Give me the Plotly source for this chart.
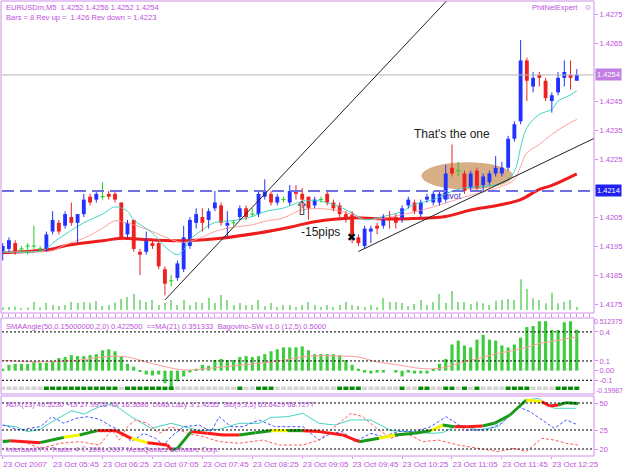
import plotly.graph_objects as go

W, H = 625, 469
VIO = "#c050dc"
VIOL = "#cf8fe6"
FONT = "Liberation Sans, Arial, sans-serif"

# ---------------- data ----------------
time_ticks = [0, 8, 16, 24, 32, 40, 48, 56, 64, 72, 80, 88]
time_labels = ["23 Oct 2007", "23 Oct 05:45", "23 Oct 06:25", "23 Oct 07:05", "23 Oct 07:45",
               "23 Oct 08:25", "23 Oct 09:05", "23 Oct 09:45", "23 Oct 10:25", "23 Oct 11:05",
               "23 Oct 11:45", "23 Oct 12:25"]

opens = [1.4193,1.4194,1.4196,1.4194,1.4195,1.4195,1.4194,1.4194,1.4200,1.4203,
         1.4202,1.4205,1.4203,1.4206,1.4212,1.4211,1.4212,1.4213,1.4213,1.4210,
         1.4199,1.4204,1.4193,1.4193,1.4196,1.4196,1.4187,1.4183,1.4184,1.4187,
         1.4195,1.4203,1.4205,1.4204,1.4208,1.4209,1.4202,1.4203,1.4205,1.4208,
         1.4206,1.4206,1.4212,1.4213,1.4210,1.4211,1.4210,1.4214,1.4213,1.4212,
         1.4209,1.4211,1.4213,1.4210,1.4209,1.4206,1.4206,1.4198,1.4195,1.4200,
         1.4202,1.4202,1.4205,1.4205,1.4204,1.4209,1.4210,1.4206,1.4211,1.4210,
         1.4210,1.4211,1.4222,1.4221,1.4220,1.4215,1.4221,1.4216,1.4217,1.4220,
         1.4220,1.4222,1.4232,1.4238,1.4259,1.4250,1.4254,1.4252,1.4245,1.4248,
         1.4253,1.4254,1.4252]
highs = [1.4196,1.4198,1.4197,1.4195,1.4196,1.4202,1.4195,1.4200,1.4207,1.4204,
         1.4207,1.4210,1.4206,1.4213,1.4213,1.4214,1.4217,1.4214,1.4214,1.4210,
         1.4204,1.4204,1.4194,1.4200,1.4197,1.4197,1.4188,1.4185,1.4190,1.4202,
         1.4205,1.4208,1.4208,1.4208,1.4214,1.4210,1.4207,1.4204,1.4209,1.4209,
         1.4208,1.4214,1.4218,1.4214,1.4213,1.4212,1.4216,1.4216,1.4215,1.4212,
         1.4212,1.4212,1.4214,1.4211,1.4210,1.4207,1.4207,1.4199,1.4202,1.4202,
         1.4203,1.4206,1.4207,1.4206,1.4209,1.4212,1.4211,1.4211,1.4213,1.4214,
         1.4214,1.4223,1.4230,1.4224,1.4221,1.4221,1.4222,1.4220,1.4221,1.4226,
         1.4224,1.4233,1.4238,1.4266,1.4260,1.4255,1.4255,1.4253,1.4248,1.4255,
         1.4259,1.4259,1.4256]
lows = [1.4190,1.4193,1.4192,1.4193,1.4192,1.4194,1.4193,1.4193,1.4199,1.4199,
        1.4201,1.4202,1.4196,1.4205,1.4209,1.4210,1.4211,1.4211,1.4210,1.4197,
        1.4198,1.4193,1.4185,1.4192,1.4194,1.4187,1.4178,1.4181,1.4183,1.4186,
        1.4194,1.4201,1.4200,1.4201,1.4207,1.4202,1.4198,1.4202,1.4204,1.4204,
        1.4205,1.4205,1.4211,1.4209,1.4209,1.4210,1.4209,1.4211,1.4208,1.4204,
        1.4208,1.4210,1.4209,1.4207,1.4205,1.4203,1.4196,1.4195,1.4194,1.4196,
        1.4199,1.4201,1.4201,1.4201,1.4203,1.4208,1.4206,1.4205,1.4210,1.4209,
        1.4209,1.4210,1.4219,1.4219,1.4213,1.4214,1.4214,1.4214,1.4216,1.4219,
        1.4219,1.4221,1.4231,1.4237,1.4245,1.4248,1.4250,1.4245,1.4241,1.4247,
        1.4250,1.4249,1.4252]
closes = [1.4195,1.4197,1.4193,1.4194,1.4195,1.4195,1.4194,1.4199,1.4204,1.4200,
          1.4206,1.4203,1.4206,1.4211,1.4210,1.4213,1.4212,1.4212,1.4211,1.4198,
          1.4203,1.4194,1.4192,1.4197,1.4195,1.4188,1.4182,1.4183,1.4189,1.4198,
          1.4204,1.4206,1.4203,1.4207,1.4210,1.4203,1.4203,1.4203,1.4208,1.4205,
          1.4206,1.4213,1.4214,1.4210,1.4212,1.4211,1.4214,1.4213,1.4211,1.4208,
          1.4211,1.4211,1.4210,1.4208,1.4206,1.4204,1.4199,1.4196,1.4201,1.4201,
          1.4201,1.4205,1.4204,1.4203,1.4208,1.4211,1.4207,1.4210,1.4212,1.4213,
          1.4213,1.4220,1.4220,1.4221,1.4214,1.4220,1.4215,1.4219,1.4220,1.4222,
          1.4222,1.4232,1.4237,1.4259,1.4252,1.4253,1.4253,1.4246,1.4247,1.4253,
          1.4255,1.4253,1.4254]
volume = [10,12,14,8,10,32,10,28,20,16,20,32,28,32,28,36,16,20,30,44,
          52,64,40,32,40,20,28,40,20,40,20,32,28,48,28,60,40,20,28,20,
          20,40,16,28,12,20,20,12,20,32,20,12,20,12,20,32,20,16,12,20,
          12,48,32,32,28,16,24,40,20,32,64,28,76,32,32,24,33,27,20,37,
          40,44,40,123,84,47,40,27,69,27,33,40,12]

ma_fast_x = [0,5,7,8,10,13,16,18,20,21,24,26,28,29,30,32,34,37,40,42,45,48,50,53,56,58,61,64,66,69,72,74,77,80,82,83,84,86,88,89,91,92]
ma_fast_y = [1.4193,1.4193,1.4194,1.4196,1.4199,1.4203,1.4206,1.42085,1.4207,1.4204,1.41995,1.41948,1.4192,1.41937,1.41971,
             1.42006,1.42031,1.42038,1.42052,1.42069,1.42081,1.42104,1.42107,1.42093,1.42064,1.42041,1.42052,1.42069,1.42093,
             1.4211,1.42139,1.4215,1.42156,1.42168,1.42207,1.4229,1.42358,1.42404,1.42421,1.4245,1.42471,1.42485]
ma_mid_x = [0,5,8,10,13,16,18,20,21,24,26,29,32,34,37,40,42,45,48,53,56,58,64,69,74,80,82,83,84,86,88,90,92]
ma_mid_y = [1.4193,1.4193,1.41934,1.41954,1.41977,1.42011,1.42037,1.42029,1.42023,1.42,1.41981,1.41962,1.41981,1.42,
            1.42015,1.42023,1.42035,1.42047,1.42075,1.42075,1.42058,1.42041,1.42058,1.42085,1.42119,1.42156,1.42179,
            1.42225,1.42271,1.423,1.42335,1.42363,1.42387]
ma_slow_x = [0,5,8,10,16,19,22,26,30,35,41,46,50,56,60,65,71,75,80,83,86,88,92]
ma_slow_y = [1.41927,1.41933,1.4194,1.41951,1.41968,1.41977,1.41973,1.41969,1.41969,1.41977,1.41995,1.42015,1.42034,
             1.42047,1.42044,1.42044,1.42052,1.42074,1.42093,1.4211,1.42145,1.42159,1.42199]

pivot_level = 1.4214
bid_level = 1.4254
price_ticks = [1.4175, 1.4185, 1.4195, 1.4205, 1.4215, 1.4225, 1.4235, 1.4245, 1.4255, 1.4265, 1.4275]
price_tick_text = ["1.4175", "1.4185", "1.4195", "1.4205", "", "1.4225", "1.4235", "1.4245", "", "1.4265", "1.4275"]

trend1 = [(26, 1.41764), (72, 1.42815)]
trend2 = [(57, 1.41931), (96, 1.42334)]
ellipse = [(67.1, 1.42145), (81.8, 1.42239)]

sma_angle = [0.02,0.06,0.07,0.07,0.07,0.09,0.08,0.08,0.10,0.13,
             0.14,0.16,0.15,0.15,0.16,0.17,0.21,0.22,0.20,0.15,
             0.07,0.04,-0.01,-0.04,-0.05,-0.04,-0.13,-0.20,-0.11,-0.06,
             -0.02,0.02,0.06,0.05,0.11,0.12,0.11,0.11,0.14,0.15,
             0.14,0.15,0.17,0.20,0.22,0.24,0.24,0.24,0.25,0.21,
             0.17,0.17,0.17,0.17,0.16,0.11,0.06,0.02,-0.02,-0.03,
             -0.02,-0.02,0.00,-0.02,-0.06,-0.02,-0.03,-0.03,-0.03,0.02,
             0.07,0.12,0.27,0.31,0.26,0.24,0.32,0.37,0.32,0.31,
             0.26,0.24,0.27,0.34,0.45,0.46,0.51,0.51,0.42,0.42,
             0.50,0.51,0.4225]
sma_ma_x = [0,6,12,17,20,24,29,33,38,44,49,54,57,60,63,67,70,73,76,79,83,86,89,92]
sma_ma_y = [0.107,0.09,0.107,0.147,0.14,0.073,0.007,0.023,0.057,0.097,0.15,0.15,0.14,0.09,0.063,0.023,0.023,
            0.073,0.123,0.173,0.223,0.28,0.313,0.351]
sma_levels = [0.4, 0.1, -0.1]
sma_max, sma_min = 0.512375, -0.19987
sma_ticks = [0.4, 0.1, 0.0, -0.1]
sma_tick_text = ["0.4", "0.1", "0.00", "-0.1"]
bagovino = [0]*7 + [1]*12 + [0] + [1]*8 + [0]*10 + [1] + [0]*2 + [1]*3 + [0]*10 + [1]*4 + [0]*6 + [1] + [0]*2 + \
           [1]*2 + [0]*2 + [1]*2 + [0] + [1] + [0] + [1] + [0]*4 + [1]*4 + [0]*4 + [1]*4

adx_x = [0,1.2,6,7.9,9.8,12.3,15.2,18.1,20.6,23.2,26.4,27,28,30.2,32.8,35.3,37.9,40.5,43,45.6,48.1,50.7,54.5,57.1,
         60.3,62.8,66,68.6,70.5,72.4,74.3,76.9,78.8,81.3,83.9,86.4,87.7,89,90.3,92.2]
adx_y = [14.2,15.1,13.3,15.7,18.2,20.4,24.4,24.4,17.3,13.3,11.1,6.5,8.0,23.5,21.9,20.4,20.4,22.5,24.4,24.4,24.4,23.5,
         20.4,14.2,17.3,20.4,21.9,24.4,29.6,28.1,28.1,28.7,31.2,38.9,52.8,51.2,47.2,48.2,50.3,49.5]
adx_col = "grggygrryrrggrrrggygrrrgyggygrrgggyrrgg"
sto_x = [0,2.1,4,6,7.9,11.1,13,15.5,17.5,18.7,20.6,23.8,27,30.2,31.5,34.7,37.9,41.1,43,45.6,48.1,50.7,53.2,55.8,59,
         62.2,65.4,68.6,70.5,73,76.2,79.4,82,83.9,85.8,87.1,88.4,90.3,91.9]
sto_y = [29.6,28.1,23.4,25.6,32.7,42.9,39.8,46.6,49.1,45.1,37.3,26.5,31.2,26.5,24.4,25.6,31.2,31.2,36.7,37.3,40.4,31.2,
         29.6,34.3,34.3,24.4,23.5,21.9,22.5,29.6,25.0,28.1,43.5,52.8,54.3,49.7,45.1,45.1,45.1]
pdi_x = [0,2.8,6,7.9,9.8,11.7,13.6,15.5,17.5,18.7,20.6,22.6,24.5,25.8,27,29,31.5,33.4,34.7,36.6,38.5,41.1,43.6,45.6,
         48.1,50.7,52.6,54.5,56.4,59,60.9,63.4,66,68.6,71.1,74.3,77.5,80,82.6,84.5,86.4,88.4,90.3,92.2]
pdi_y = [29.6,25.0,28.1,37.3,31.2,35.8,37.3,34.9,28.1,25.0,14.2,21.9,17.3,11.1,18.8,28.1,29.6,23.5,37.3,28.1,28.1,34.3,
         28.1,28.1,28.1,15.7,21.9,23.5,14.2,21.9,18.8,23.5,23.5,28.1,37.3,25.0,25.0,31.2,46.6,42.0,34.3,26.5,34.3,29.6]
mdi_x = [0,3.4,6,9.2,12.3,15.5,17.5,18.7,20,21.3,23.2,25.1,27,29.6,32.2,34.7,37.9,41.7,44.3,48.1,50.7,53.2,55.8,57.7,
         59.6,62.2,64.7,67.3,69.8,73,76.2,79.4,82,83.9,86.4,88.4,90.3,92.2]
mdi_y = [15.7,14.2,8.0,12.7,14.2,11.1,25.0,15.7,28.1,34.3,31.2,21.9,28.1,21.9,18.8,14.2,12.7,15.7,11.1,11.1,15.7,28.1,
         40.4,37.3,28.1,17.3,21.9,14.2,15.7,11.1,8.0,5.0,8.0,5.0,17.3,15.7,12.7,11.1]
adx_levels = [50, 25, 7.4]
adx_ticks = [50, 25, 7.4]
adx_tick_text = ["50", "25", "20"]

# ---------------- geometry helpers (page px -> paper) ----------------
def fy(px):
    return 1 - px / H

XD = [2 / W, 594 / W]
XR = [-0.112, 94.76]

fig = go.Figure()

# volume (behind)
fig.add_trace(go.Bar(x=list(range(len(volume))), y=volume, width=0.18, marker_color="#8fdc8f",
                     marker_line_width=0, xaxis="x", yaxis="y2", hoverinfo="skip"))

# moving averages
fig.add_trace(go.Scatter(x=ma_slow_x, y=ma_slow_y, mode="lines", line=dict(color="#ee1c1c", width=3, shape="spline"),
                         xaxis="x", yaxis="y"))
fig.add_trace(go.Scatter(x=ma_mid_x, y=ma_mid_y, mode="lines", line=dict(color="#ffa0a0", width=1, shape="spline"),
                         xaxis="x", yaxis="y"))
fig.add_trace(go.Scatter(x=ma_fast_x, y=ma_fast_y, mode="lines", line=dict(color="#3fd6c6", width=1, shape="spline"),
                         xaxis="x", yaxis="y"))

# candles
n = len(opens)
groups = {"up": ("#2233ff", [i for i in range(n) if closes[i] > opens[i]]),
          "dn": ("#ee2222", [i for i in range(n) if closes[i] < opens[i]]),
          "dj": ("#22cc22", [i for i in range(n) if closes[i] == opens[i]])}
for key, (col, idx) in groups.items():
    wx, wy = [], []
    for i in idx:
        wx += [i, i, None]
        wy += [lows[i], highs[i], None]
    fig.add_trace(go.Scatter(x=wx, y=wy, mode="lines", line=dict(color=col, width=1), xaxis="x", yaxis="y",
                             hoverinfo="skip"))
    if key == "dj":
        hx, hy = [], []
        for i in idx:
            hx += [i - 0.35, i + 0.35, None]
            hy += [closes[i], closes[i], None]
        fig.add_trace(go.Scatter(x=hx, y=hy, mode="lines", line=dict(color=col, width=1), xaxis="x", yaxis="y"))
    else:
        fig.add_trace(go.Bar(x=idx, base=[min(opens[i], closes[i]) for i in idx],
                             y=[abs(closes[i] - opens[i]) for i in idx], width=0.62,
                             marker=dict(color=col, line=dict(width=0)), xaxis="x", yaxis="y"))

# panel 2
fig.add_trace(go.Bar(x=list(range(len(sma_angle))), y=sma_angle, width=0.5, marker_color="#3ccc3c",
                     marker_line_width=0, xaxis="x2", yaxis="y3"))
fig.add_trace(go.Scatter(x=sma_ma_x, y=sma_ma_y, mode="lines", line=dict(color="#ff9c9c", width=1, shape="spline"),
                         xaxis="x2", yaxis="y3"))
fig.add_trace(go.Scatter(x=list(range(len(bagovino))), y=[-0.19] * len(bagovino), mode="markers",
                         marker=dict(symbol="square", size=5, line_width=0,
                                     color=["#0a8a0a" if b else "#d4d4d4" for b in bagovino]),
                         xaxis="x2", yaxis="y3"))

# panel 3
fig.add_trace(go.Scatter(x=sto_x, y=sto_y, mode="lines", line=dict(color="#44d4c4", width=1), xaxis="x3", yaxis="y4"))
fig.add_trace(go.Scatter(x=pdi_x, y=pdi_y, mode="lines", line=dict(color="#4455ff", width=1, dash="3px,2px"),
                         xaxis="x3", yaxis="y4"))
fig.add_trace(go.Scatter(x=mdi_x, y=mdi_y, mode="lines", line=dict(color="#ff5a5a", width=1, dash="3px,2px"),
                         xaxis="x3", yaxis="y4"))
cmap = {"g": "#1a9a1a", "y": "#f5f500", "r": "#ff1a1a"}
for c, col in cmap.items():
    sx, sy = [], []
    for k, ch in enumerate(adx_col):
        if ch == c:
            sx += [adx_x[k], adx_x[k + 1], None]
            sy += [adx_y[k], adx_y[k + 1], None]
    fig.add_trace(go.Scatter(x=sx, y=sy, mode="lines", line=dict(color=col, width=3), xaxis="x3", yaxis="y4"))

shapes = []
shapes.append(dict(type="line", xref="x domain", yref="y", x0=0, x1=1, y0=bid_level, y1=bid_level,
                   line=dict(color="#b4b4b4", width=1)))
shapes.append(dict(type="line", xref="x domain", yref="y", x0=0, x1=1, y0=pivot_level, y1=pivot_level,
                   line=dict(color="#7070e4", width=2, dash="12px,6px")))
shapes.append(dict(type="circle", xref="x", yref="y", x0=ellipse[0][0], x1=ellipse[1][0], y0=ellipse[0][1],
                   y1=ellipse[1][1], fillcolor="rgba(208,160,112,0.85)", line=dict(width=0), layer="below"))
for (a, b) in (trend1, trend2):
    shapes.append(dict(type="line", xref="x", yref="y", x0=a[0], y0=a[1], x1=b[0], y1=b[1],
                       line=dict(color="#222222", width=1)))
for lv in sma_levels:
    shapes.append(dict(type="line", xref="x2 domain", yref="y3", x0=0, x1=1, y0=lv, y1=lv,
                       line=dict(color="#000000", width=1, dash="2px,2px")))
for lv in adx_levels:
    shapes.append(dict(type="line", xref="x3 domain", yref="y4", x0=0, x1=1, y0=lv, y1=lv,
                       line=dict(color="#000000", width=1, dash="2px,2px")))
for (t, b) in ((1, 313), (318, 394), (396, 456)):
    shapes.append(dict(type="rect", xref="paper", yref="paper", x0=1 / W, x1=594 / W, y0=fy(b), y1=fy(t),
                       line=dict(color=VIOL, width=1)))

ann = []
def txt(x, y, s, size=7.5, color=VIO, xa="left", xref="paper", yref="paper", ya="middle", **kw):
    ann.append(dict(x=x, y=y, xref=xref, yref=yref, text=s, showarrow=False, xanchor=xa, yanchor=ya,
                    font=dict(family=FONT, size=size, color=color), **kw))

txt(4 / W, fy(8), "EURUSDm,M5  1.4252 1.4256 1.4252 1.4254")
txt(4 / W, fy(18), "Bars = 8 Rev up =  1.426 Rev down = 1.4223")
txt(580 / W, fy(8), "PhilNelExpert", xa="right")
txt(588 / W, fy(8), "☺", size=8, xa="center")
txt(4 / W, fy(326), "SMAAngle(50,0.15000000,2,0) 0.422500  ==MA(21) 0.351333  Bagovino-SW v1.0 (12,5) 0.5000")
txt(4 / W, fy(404), "ADX(13) 49.5230 +DI 27.9916 -DI 16.3686  Dolla Lazy 3 1.4255  Sto(9,3,5) 63.6429 68.7277")
txt(4 / W, fy(449), "Interbank FX Trader 4 © 2001-2007 MetaQuotes Software Corp.")
# panel-2 range labels (max / min)
txt(1.0, sma_max, "0.512375", size=6.8, xa="right", xref="paper", yref="y3", ya="middle")
txt(1.0, sma_min, "-0.19987", size=6.8, xa="right", xref="paper", yref="y3", ya="middle")
ann.append(dict(x=595 / W, y=pivot_level, xref="paper", yref="y", text="1.4214", showarrow=False, xanchor="left",
                yanchor="middle", bgcolor="#2020f0", borderpad=1,
                font=dict(family=FONT, size=7.5, color="white")))
ann.append(dict(x=595 / W, y=bid_level, xref="paper", yref="y", text="1.4254", showarrow=False, xanchor="left",
                yanchor="middle", bgcolor="#c27ee2", borderpad=1,
                font=dict(family=FONT, size=7.5, color="white")))
txt(72.0, 1.42335, "That's the one", size=12, color="#222222", xa="center", xref="x", yref="y")
txt(51.0, 1.41999, "-15pips", size=12, color="#222222", xa="center", xref="x", yref="y")
txt(72.0, 1.42124, "Pivot", size=8.5, color="#3535c8", xa="center", xref="x", yref="y")
txt(55.9, 1.41981, "✖", size=11, color="#000000", xa="center", xref="x", yref="y")
txt(47.9, 1.42079, "⇧", size=19, color="#444444", xa="center", xref="x", yref="y")

axfont = dict(family=FONT, size=7.5, color=VIO)
fig.update_layout(
    width=W, height=H, margin=dict(l=0, r=0, t=0, b=0, autoexpand=False), paper_bgcolor="white",
    plot_bgcolor="white", showlegend=False, barmode="overlay", shapes=shapes, annotations=ann,
    xaxis=dict(domain=XD, range=XR, showticklabels=False, ticks="outside", ticklen=3, tickcolor=VIOL,
               tick0=0, dtick=1, showgrid=False, zeroline=False, anchor="y", automargin=False),
    yaxis=dict(domain=[fy(313), fy(1)], range=[1.41719, 1.42795], side="right", tickvals=price_ticks,
               ticktext=price_tick_text, ticks="outside", ticklen=3, tickcolor=VIOL, tickfont=axfont,
               showgrid=False, zeroline=False, anchor="x", automargin=False),
    yaxis2=dict(overlaying="y", range=[-12, 1232], visible=False),
    xaxis2=dict(domain=XD, range=XR, showticklabels=False, showgrid=False, zeroline=False, anchor="y3",
                automargin=False),
    yaxis3=dict(domain=[fy(390), fy(321)], range=[sma_min, sma_max], side="right", tickvals=sma_ticks,
                ticktext=sma_tick_text, ticks="outside", ticklen=3, tickcolor=VIOL, tickfont=axfont,
                showgrid=False, zeroline=False, anchor="x2", automargin=False),
    xaxis3=dict(domain=XD, range=XR, tickvals=time_ticks, ticktext=time_labels, ticks="outside", ticklen=2,
                tickcolor=VIOL, ticklabelposition="outside right", tickangle=0,
                tickfont=dict(family=FONT, size=8, color=VIO),
                showgrid=False, zeroline=False, anchor="y4", automargin=False),
    yaxis4=dict(domain=[fy(456), fy(397)], range=[0.93, 55.56], side="right", tickvals=adx_ticks,
                ticktext=adx_tick_text, ticks="outside", ticklen=3, tickcolor=VIOL, tickfont=axfont,
                showgrid=False, zeroline=False, anchor="x3", automargin=False),
)
fig.write_html("out.html")
